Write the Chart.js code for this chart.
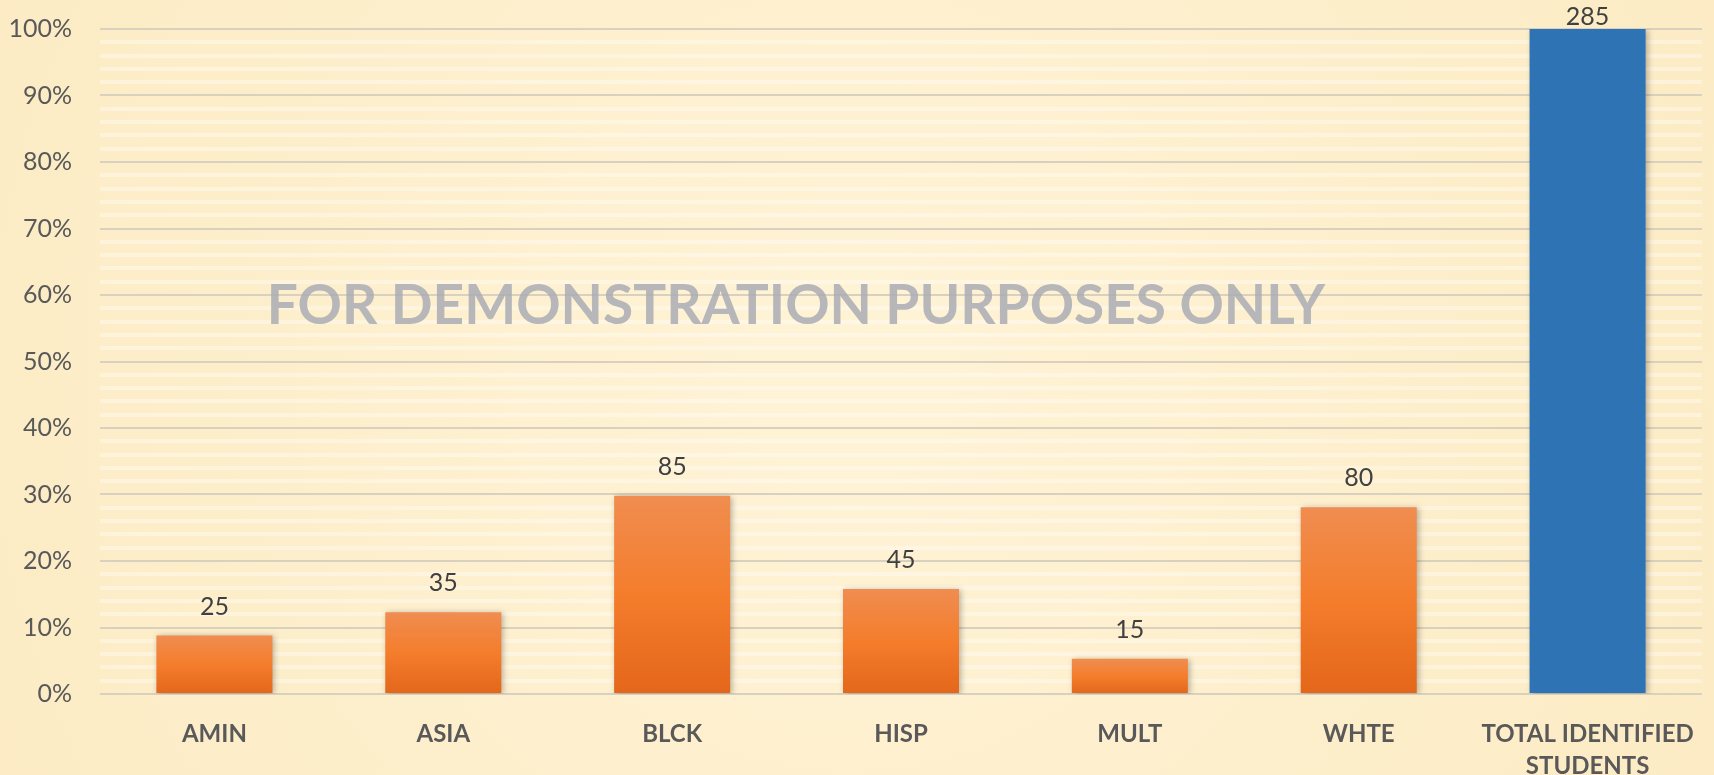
<!DOCTYPE html>
<html>
<head>
<meta charset="utf-8">
<script src="https://cdn.jsdelivr.net/npm/chart.js@4"></script>
<style>
  body { margin: 0; background: #fdf0cf; }
  #chart { display: block; }
</style>
</head>
<body>
<canvas id="chart" width="1714" height="775"></canvas>
<script>
// categories, counts shown on top and bar heights (% of total)
const categories = ["AMIN", "ASIA", "BLCK", "HISP", "MULT", "WHTE", ["TOTAL IDENTIFIED", "STUDENTS"]];
const counts = [25, 35, 85, 45, 15, 80, 285];
const shares = [8.8, 12.3, 29.8, 15.8, 5.3, 28.1, 100];
const yTicks = [0, 10, 20, 30, 40, 50, 60, 70, 80, 90, 100];

const watermark = "FOR DEMONSTRATION PURPOSES ONLY";

const background = {
  id: 'background',
  beforeDraw(chart) {
    const c = chart.ctx;
    const g = c.createRadialGradient(850, 380, 50, 850, 380, 1000);
    g.addColorStop(0, '#fff3d6');
    g.addColorStop(1, '#fcebc3');
    c.save();
    c.fillStyle = g;
    c.fillRect(0, 0, chart.width, chart.height);
    c.restore();
  }
};

const barShadow = {
  id: 'barShadow',
  beforeDatasetsDraw(chart) {
    const c = chart.ctx;
    c.save();
    c.shadowColor = 'rgba(0,0,0,0.28)';
    c.shadowBlur = 6;
    c.shadowOffsetX = 2;
    c.shadowOffsetY = 1;
  },
  afterDatasetsDraw(chart) {
    chart.ctx.restore();
  }
};

const valueLabels = {
  id: 'valueLabels',
  afterDatasetsDraw(chart) {
    const c = chart.ctx;
    const meta = chart.getDatasetMeta(0);
    c.save();
    c.font = '25px Lato';
    c.fillStyle = '#404040';
    c.textAlign = 'center';
    c.textBaseline = 'middle';
    meta.data.forEach((bar, i) => {
      const y = Math.max(bar.y - 29, chart.chartArea.top - 12);
      c.fillText(counts[i], bar.x, y);
    });
    c.restore();
  }
};

const watermarkText = {
  id: 'watermarkText',
  afterDraw(chart) {
    const c = chart.ctx;
    c.save();
    c.font = 'bold 55px Lato';
    c.fillStyle = 'rgba(170,172,180,0.85)';
    c.textAlign = 'center';
    c.textBaseline = 'middle';
    c.fillText(watermark, 796, 306);
    c.restore();
  }
};

function barFill(ctx) {
  const chart = ctx.chart;
  const i = ctx.dataIndex;
  if (i === categories.length - 1) return '#2e74b5';
  const y = chart.scales.y;
  if (!chart.chartArea || !y) return '#f47e30';
  const top = y.getPixelForValue(shares[i]);
  const bottom = y.getPixelForValue(0);
  const g = chart.ctx.createLinearGradient(0, top, 0, bottom);
  g.addColorStop(0, '#f08d50');
  g.addColorStop(0.5, '#f47d2c');
  g.addColorStop(1, '#e4661a');
  return g;
}

new Chart(document.getElementById('chart'), {
  type: 'bar',
  data: {
    labels: categories,
    datasets: [{
      data: shares,
      backgroundColor: barFill,
      borderWidth: 0,
      barPercentage: 0.507,
      categoryPercentage: 1
    }]
  },
  options: {
    responsive: false,
    animation: false,
    layout: { padding: { top: 29, right: 12, left: 0, bottom: 0 } },
    plugins: { legend: { display: false }, tooltip: { enabled: false } },
    scales: {
      x: {
        grid: { display: false },
        border: { display: false },
        ticks: {
          color: '#595959',
          font: { family: 'Lato', weight: 'bold', size: 24, lineHeight: 1.35 },
          padding: 16,
          maxRotation: 0,
          autoSkip: false
        },
        afterFit(scale) { scale.height = 81; }
      },
      y: {
        min: 0,
        max: 100,
        border: { display: false },
        grid: {
          drawTicks: false,
          color: (ctx) => yTicks.includes(Math.round(ctx.tick.value)) ? '#d8d1bf' : 'rgba(255,255,255,0.35)',
          lineWidth: (ctx) => yTicks.includes(Math.round(ctx.tick.value)) ? 2 : 4
        },
        ticks: {
          stepSize: 2,
          autoSkip: false,
          color: '#595959',
          font: { family: 'Lato', size: 25 },
          padding: 28,
          callback: (v) => yTicks.includes(Math.round(v)) ? Math.round(v) + '%' : ''
        },
        afterFit(scale) {
          scale.width = 100;
          scale.paddingTop = 0;
          scale.paddingBottom = 0;
        }
      }
    }
  },
  plugins: [background, barShadow, valueLabels, watermarkText]
});
</script>
</body>
</html>
